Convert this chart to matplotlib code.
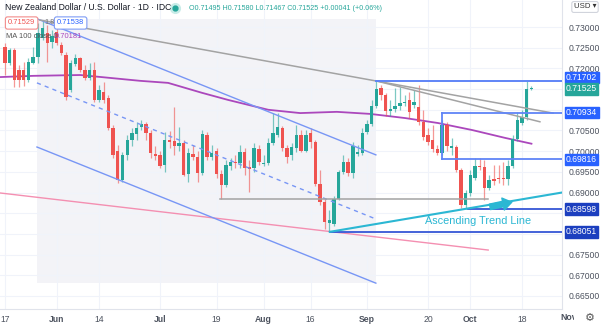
import matplotlib
matplotlib.use("Agg")
import matplotlib.pyplot as plt
import matplotlib.transforms as mtransforms
from matplotlib.patches import Rectangle
import numpy as np
import pandas as pd

plt.rcParams['font.family'] = ['Liberation Sans', 'DejaVu Sans']

# --- daily NZD/USD candles (index 0 = 17 May 2021) ---
opens = [.7252, .7213, .7245, .7196, .7196, .7172, .7213, .7228, .7274, .7286,
         .7264, .7288, .7257, .7232, .7148, .7211, .7225, .7196, .7177, .7196,
         .7124, .7143, .7128, .7056, .7000, .6930, .6991, .7027, .7042, .7058,
         .7066, .7044, .6993, .6991, .6967, .7027, .7024, .7012, .7020, .6945,
         .6993, .6986, .6947, .7039, .6986, .7000, .6945, .6918, .6964, .6974,
         .6971, .6998, .6962, .6959, .7005, .6969, .6971, .7020, .7039, .7056,
         .7008, .6991, .7008, .7039, .7000, .7044, .7022, .6921, .6877, .6826,
         .6824, .6884, .6950, .6974, .6947, .6993, .6996, .7046, .7066, .7109,
         .7153, .7136, .7097, .7102, .7109, .7116, .7124, .7112, .7107, .7071,
         .7039, .7027, .7005, .6996, .7063, .7008, .7010, .6954, .6870, .6899,
         .6935, .6964, .6962, .6911, .6933, .6935, .6935, .6933, .6964, .7029,
         .7068, .7083, .71495]
highs = [.7262, .7249, .7249, .7208, .7216, .7225, .7252, .7310, .7317, .7305,
         .7293, .7298, .7264, .7240, .7220, .7235, .7228, .7208, .7213, .7216,
         .7160, .7167, .7136, .7063, .7015, .6998, .7039, .7056, .7071, .7075,
         .7071, .7051, .7012, .7000, .7046, .7049, .7107, .7058, .7027, .7008,
         .7015, .7000, .7051, .7046, .7015, .7008, .6955, .6979, .6983, .6991,
         .7015, .7008, .6979, .7020, .7015, .6991, .7032, .7092, .7092, .7061,
         .7015, .7020, .7063, .7051, .7051, .7056, .7027, .6955, .6887, .6858,
         .6892, .6954, .6991, .6983, .7022, .7015, .7056, .7075, .7124, .7170,
         .7160, .7141, .7124, .7153, .7155, .7136, .7143, .7148, .7160, .7099,
         .7056, .7063, .7015, .7075, .7071, .7032, .7015, .6959, .6906, .6954,
         .6983, .6983, .6979, .6942, .6967, .6967, .6974, .6979, .7039, .7095,
         .7099, .7170, .71580]
lows = [.7184, .7208, .7155, .7155, .7158, .7167, .7211, .7213, .7269, .7216,
        .7249, .7257, .7232, .7124, .7143, .7206, .7191, .7172, .7172, .7119,
        .7119, .7116, .7051, .6984, .6923, .6926, .6979, .7012, .7027, .7051,
        .7027, .6984, .6979, .6959, .6950, .7008, .6991, .7000, .6940, .6926,
        .6979, .6926, .6942, .6979, .6979, .6935, .6884, .6913, .6954, .6959,
        .6959, .6942, .6901, .6950, .6967, .6964, .6967, .7015, .7034, .7000,
        .6971, .6979, .6998, .6998, .6998, .7008, .6916, .6870, .6812, .6805,
        .6819, .6882, .6945, .6940, .6935, .6988, .6991, .7042, .7061, .7104,
        .7124, .7085, .7085, .7095, .7100, .7109, .7080, .7104, .7063, .7027,
        .7015, .6998, .6991, .6991, .7000, .6991, .6950, .6863, .6860, .6892,
        .6930, .6954, .6882, .6906, .6918, .6923, .6918, .6918, .6959, .7024,
        .7063, .7075, .71467]
closes = [.7213, .7245, .7172, .7172, .7172, .7216, .7228, .7286, .7298, .7261,
          .7278, .7261, .7237, .7131, .7213, .7225, .7196, .7177, .7196, .7124,
          .7148, .7124, .7056, .6991, .6930, .6991, .7027, .7044, .7056, .7066,
          .7044, .6996, .6988, .6964, .7027, .7022, .7012, .7020, .6942, .6996,
          .6986, .6947, .7042, .6986, .6996, .6945, .6918, .6967, .6974, .6971,
          .6998, .6959, .6957, .7008, .6974, .6971, .7020, .7044, .7058, .7008,
          .6986, .7010, .7039, .7000, .7039, .7022, .6921, .6877, .6829, .6834,
          .6884, .6950, .6974, .6947, .7012, .6998, .7044, .7066, .7109, .7150,
          .7136, .7097, .7102, .7109, .7116, .7119, .7095, .7119, .7071, .7034,
          .7022, .7005, .6996, .7063, .7012, .7012, .6954, .6870, .6899, .6942,
          .6964, .6962, .6911, .6930, .6928, .6933, .6933, .6964, .7029, .7075,
          .7083, .7150, .71525]

# 100-day moving average, read at a few points (bar index, price)
ma_x = [-1.1, 6, 16, 28.7, 34.7, 41.9, 47.4, 56, 62.8, 70.6, 77.7, 85.1, 92.1, 99.4, 106.4, 112]
ma_y = [.7179, .7182, .7184, .7170, .7165, .7141, .7124, .7100, .7092, .7095, .7090, .7080,
        .7068, .7051, .7032, .7018]

# drawings (bar index, price)
chan_x = [6.8, 78.9]
chan_upper = [.7320, .6991]
chan_mid = [.7165, .6836]
chan_lower = [.7010, .6681]
grayA_x, grayA_y = [7.4, 116.6], [.7317, .7092]
grayB_x, grayB_y = [78.9, 113.8], [.7170, .7071]
gray_flat_x, gray_flat_y = [45.7, 102.8], .6884
pink_x, pink_y = [-1.1, 102.8], [.6899, .6761]
trend_x, trend_y = [69.1, 118.5], [.6805, .6900]
arrow_tail, arrow_head = (102.6, .6864), (108.4, .6878)
lvl_top = (79, .71702)
box_x, box_top, box_bot = 93.0, .70934, .69816
lvl_mid = (98.5, .68598)
lvl_low = (69.1, .68051)
last_close = .71525

tick_dates = ['2021-05-17', '2021-06-01', '2021-06-14', '2021-07-01', '2021-07-19', '2021-08-02',
              '2021-08-16', '2021-09-01', '2021-09-20', '2021-10-01', '2021-10-18']
tick_labels = ['17', 'Jun', '14', 'Jul', '19', 'Aug', '16', 'Sep', '20', 'Oct', '18']
price_ticks = [.665, .670, .675, .680, .685, .690, .695, .700, .705, .710, .715, .720, .725, .730]
hidden_ticks = [.680, .685, .710, .715]  # covered by the level labels

UP, DN = '#26a69a', '#ef5350'
BLUE, DBLUE, CHAN = '#2962ff', '#1c3fbf', '#7896f5'
CYAN = '#2bb7d3'

W, H = 602, 326
fig = plt.figure(figsize=(W / 100, H / 100), dpi=100)
ax = fig.add_axes([0, 17 / H, 562 / W, 309 / H])
XR = 118.5
ax.set_xlim(-1.06, XR)
ax.set_ylim(0.66185, 0.73653)

days = pd.bdate_range('2021-05-17', periods=130)
tpos = days.get_indexer(pd.to_datetime(tick_dates))
ax.set_xticks(tpos)
ax.set_xticklabels(tick_labels)
for t in ax.get_xticklabels():
    if not t.get_text().isdigit():
        t.set_fontweight('bold')
ax.set_yticks(price_ticks)
ax.set_yticklabels(['' if v in hidden_ticks else '%.5f' % v for v in price_ticks])
ax.yaxis.tick_right()
ax.tick_params(axis='y', length=0, pad=5, labelsize=6.2, labelcolor='#4c525e')
ax.tick_params(axis='x', length=0, pad=4, labelsize=6.2, labelcolor='#4c525e')
ax.grid(color='#f0f3fa', lw=0.8)
ax.set_axisbelow(True)
for s in ['top', 'left']:
    ax.spines[s].set_visible(False)
for s in ['right', 'bottom']:
    ax.spines[s].set_color('#e0e3eb')
    ax.spines[s].set_linewidth(0.8)

# shaded channel box
ax.add_patch(Rectangle((chan_x[0], chan_lower[1]), chan_x[1] - chan_x[0], chan_upper[0] - chan_lower[1],
                       fc='#f3f3f7', ec='none', zorder=0.5))

ax.plot(ma_x, ma_y, color='#ab47bc', lw=1.3, zorder=2)
ax.plot(pink_x, pink_y, color='#f48fb1', lw=1, zorder=2)

# candles
xs = np.arange(len(opens))
for i in xs:
    o, h, l, c = opens[i], highs[i], lows[i], closes[i]
    col = UP if c >= o else DN
    ax.vlines(i, l, h, color=col, lw=0.9, alpha=0.6, zorder=3)
    ax.bar(i, max(abs(c - o), 0.0001), bottom=min(o, c), width=0.72, color=col, zorder=4)

# channel lines
ax.plot(chan_x, chan_upper, color=CHAN, lw=1, zorder=5)
ax.plot(chan_x, chan_lower, color=CHAN, lw=1, zorder=5)
ax.plot(chan_x, chan_mid, color=CHAN, lw=1, ls=(0, (3, 3)), zorder=5)

ax.plot(grayA_x, grayA_y, color='#a3a3a3', lw=1.1, zorder=5)
ax.plot(grayB_x, grayB_y, color='#a3a3a3', lw=1.1, zorder=5)
ax.plot(gray_flat_x, [gray_flat_y] * 2, color='#a3a3a3', lw=1.1, zorder=5)

# horizontal levels
ax.plot([lvl_top[0], XR], [lvl_top[1]] * 2, color='#5f84f7', lw=1.4, zorder=5)
ax.plot([box_x, XR], [box_top] * 2, color='#5f84f7', lw=1.3, zorder=5)
ax.plot([box_x, XR], [box_bot] * 2, color='#5f84f7', lw=1.3, zorder=5)
ax.plot([box_x, box_x], [box_bot, box_top], color='#5f84f7', lw=1.3, zorder=5)
ax.plot([lvl_mid[0], XR], [lvl_mid[1]] * 2, color='#3556d6', lw=1.3, zorder=5)
ax.plot([lvl_low[0], XR], [lvl_low[1]] * 2, color='#3556d6', lw=1.3, zorder=5)

# ascending trend line
ax.plot(trend_x, trend_y, color=CYAN, lw=1.5, zorder=6)
ax.annotate('', xy=arrow_head, xytext=arrow_tail,
            arrowprops=dict(arrowstyle='simple,head_width=1.1,head_length=0.8,tail_width=0.5',
                            color=CYAN, mutation_scale=8), zorder=6)
ax.text(100.6, .6831, 'Ascending Trend Line', color=CYAN, fontsize=7.8, ha='center', va='center', zorder=6)

# price labels on the axis (some nudged apart, as on the chart)
tr = mtransforms.blended_transform_factory(ax.transAxes, ax.transData)
for v, shift, col in [(lvl_top[1], .0008, BLUE), (last_close, -.0002, UP), (box_top, 0, BLUE),
                      (box_bot, -.0002, BLUE), (lvl_mid[1], 0, DBLUE), (lvl_low[1], 0, DBLUE)]:
    ax.text(1.0 + 4 / 562, v + shift, '%.5f' % v, transform=tr, color='white', fontsize=6.2,
            ha='left', va='center', clip_on=False, zorder=10,
            bbox=dict(boxstyle='square,pad=0.15', fc=col, ec=col))

# header texts
fig.text(5 / W, 1 - 8 / H, 'New Zealand Dollar / U.S. Dollar · 1D · IDC', fontsize=6.2,
         color='#131722', va='center')
fig.add_artist(plt.Line2D([175 / W], [1 - 8 / H], marker='o', ms=7, color='#c8ece8', ls=''))
fig.add_artist(plt.Line2D([175 / W], [1 - 8 / H], marker='o', ms=3.5, color=UP, ls=''))
fig.text(189 / W, 1 - 8 / H, 'O0.71495 H0.71580 L0.71467 C0.71525 +0.00041 (+0.06%)',
         fontsize=5.1, color=UP, va='center')
fig.text(8 / W, 1 - 23 / H, '0.71529', fontsize=5.4, color=DN, va='center',
         bbox=dict(boxstyle='round,pad=0.35,rounding_size=0.3', fc='white', ec='#f28b8a', lw=0.8))
fig.text(44 / W, 1 - 23 / H, '1.8', fontsize=5.2, color='#777777', va='center')
fig.text(57 / W, 1 - 23 / H, '0.71538', fontsize=5.4, color=BLUE, va='center',
         bbox=dict(boxstyle='round,pad=0.35,rounding_size=0.3', fc='white', ec='#7f9cf5', lw=0.8))
fig.text(6 / W, 1 - 37 / H, 'MA 100 close 0', fontsize=5.4, color='#555555', va='center')
fig.text(55 / W, 1 - 37 / H, '0.70181', fontsize=5.4, color='#ab47bc', va='center')
fig.text(585 / W, 1 - 7 / H, 'USD ▾', fontsize=5.6, color='#333333', va='center', ha='center',
         bbox=dict(boxstyle='round,pad=0.25', fc='white', ec='#d1d4dc', lw=0.8))

nov = fig.text(569 / W, 1 - 318 / H, 'Nov', fontsize=6.2, color='#4c525e', fontweight='bold',
               ha='center', va='center')
nov.set_clip_box(mtransforms.Bbox.from_extents(0, 0, 574, H))
nov.set_clip_on(True)
fig.text(590 / W, 1 - 318 / H, '⚙', fontsize=8, color='#555555', ha='center', va='center')

fig.savefig('out.png', dpi=100)
